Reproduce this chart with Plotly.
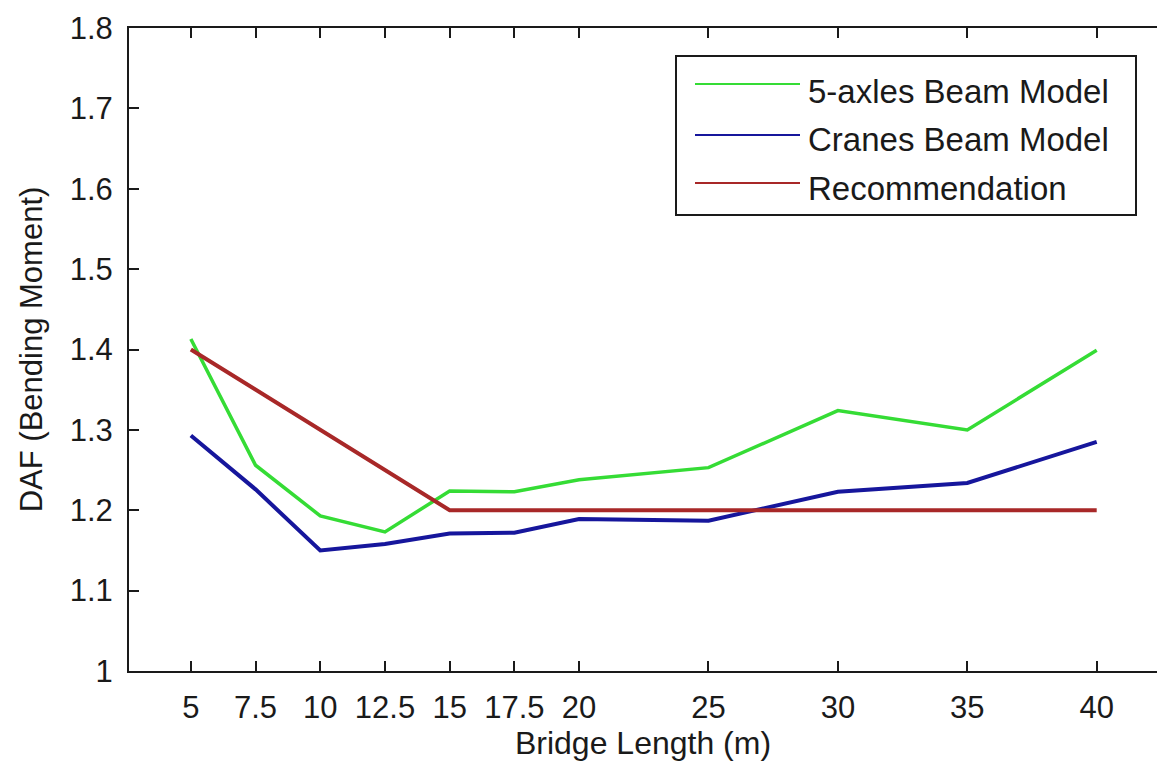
import plotly.graph_objects as go

# ---- data ----
bridge_length = [5, 7.5, 10, 12.5, 15, 17.5, 20, 25, 30, 35, 40]
tick_labels = ["5", "7.5", "10", "12.5", "15", "17.5", "20", "25", "30", "35", "40"]
five_axles = [1.413, 1.256, 1.193, 1.173, 1.224, 1.223, 1.238, 1.253, 1.324, 1.300, 1.399]
cranes = [1.293, 1.226, 1.150, 1.158, 1.171, 1.172, 1.189, 1.187, 1.223, 1.234, 1.285]
recommendation = [1.40, 1.35, 1.30, 1.25, 1.20, 1.20, 1.20, 1.20, 1.20, 1.20, 1.20]
series_names = ["5-axles Beam Model", "Cranes Beam Model", "Recommendation"]
series_colors = ["#35dc35", "#16169c", "#a82828"]
y_ticks = [1, 1.1, 1.2, 1.3, 1.4, 1.5, 1.6, 1.7, 1.8]

FONT = "Liberation Sans, Arial, sans-serif"
W, H = 1157, 771
L, R, T, B = 129, 0, 28, 100

fig = go.Figure()
for name, vals, col, w in zip(series_names, [five_axles, cranes, recommendation],
                              series_colors, [3.5, 4, 4]):
    fig.add_trace(go.Scatter(x=bridge_length, y=vals, mode="lines", name=name,
                             line=dict(color=col, width=w), showlegend=False))

axis_common = dict(showgrid=False, zeroline=False, showline=True, linecolor="#1a1a1a",
                   linewidth=2, ticks="inside", ticklen=10, tickwidth=1.5,
                   tickcolor="#1a1a1a", automargin=False,
                   tickfont=dict(family=FONT, size=31, color="#1a1a1a"))

fig.update_layout(
    width=W, height=H,
    margin=dict(l=L, r=R, t=T, b=B),
    paper_bgcolor="white", plot_bgcolor="white",
    xaxis=dict(range=[2.61, 42.33], tickvals=bridge_length, ticktext=tick_labels,
               mirror="ticks", ticklabelstandoff=8,
               title=dict(text="Bridge Length (m)", standoff=6,
                          font=dict(family=FONT, size=32, color="#1a1a1a")),
               **axis_common),
    yaxis=dict(range=[1, 1.8], tickvals=y_ticks, mirror=False, ticklabelstandoff=8,
               title=dict(text="DAF (Bending Moment)", standoff=18,
                          font=dict(family=FONT, size=31, color="#1a1a1a")),
               **axis_common),
    yaxis2=dict(range=[1, 1.8], tickvals=y_ticks, overlaying="y", side="right",
                anchor="x", showticklabels=False, showline=False, showgrid=False,
                zeroline=False, ticks="inside", ticklen=10, tickwidth=1.5,
                tickcolor="#1a1a1a"),
)

# ---- legend box (drawn as layout decoration) ----
pw, ph = W - L - R, H - T - B
def px(xp):
    return (xp - L) / pw
def py(yp):
    return (H - B - yp) / ph

fig.add_shape(type="rect", xref="paper", yref="paper",
              x0=px(676), x1=px(1136), y0=py(215), y1=py(56),
              line=dict(color="#1a1a1a", width=2), fillcolor="white", layer="above")
line_y = [84, 135, 183]
text_y = [91, 139, 188]
for name, col, ly, ty in zip(series_names, series_colors, line_y, text_y):
    fig.add_shape(type="line", xref="paper", yref="paper",
                  x0=px(695), x1=px(800), y0=py(ly), y1=py(ly),
                  line=dict(color=col, width=2), layer="above")
    fig.add_annotation(xref="paper", yref="paper", x=px(806), y=py(ty),
                       xanchor="left", yanchor="middle", showarrow=False,
                       text=name, font=dict(family=FONT, size=33, color="#1a1a1a"))

fig.write_html("out.html")
